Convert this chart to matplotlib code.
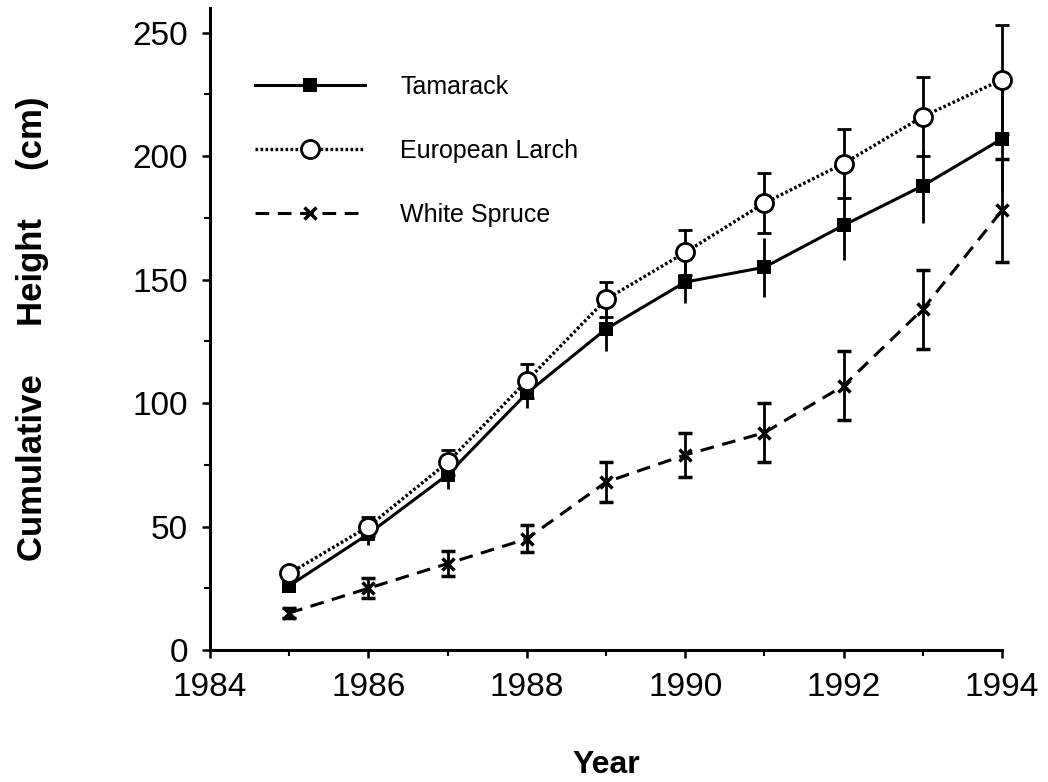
import matplotlib.pyplot as plt
from matplotlib.ticker import MultipleLocator

plt.rcParams['font.family'] = ['Liberation Sans', 'DejaVu Sans']

years = [1985, 1986, 1987, 1988, 1989, 1990, 1991, 1992, 1993, 1994]

tamarack = [26, 47, 71, 104, 130, 149, 155, 172, 188, 207]
tamarack_err = [1.5, 4.5, 6, 6, 9, 8.5, 12, 14, 15, 21]

larch = [31, 50, 76, 109, 142, 161, 181, 197, 216, 231]
larch_err = [2, 4, 5, 7, 7, 9, 12, 14, 16, 22]

spruce = [15, 25, 35, 45, 68, 79, 88, 107, 138, 178]
spruce_err = [2, 4, 5, 5.5, 8, 9, 12, 14, 16, 21]

x_ticks = [1984, 1986, 1988, 1990, 1992, 1994]
y_ticks = [0, 50, 100, 150, 200, 250]

fig = plt.figure(figsize=(10.48, 7.82), dpi=100)
ax = fig.add_axes([0.2004, 0.1688, 0.7557, 0.821])

# 白杉 - 虚线
sp = ax.errorbar(years, spruce, yerr=spruce_err, color='black', lw=2.2,
                 ls=(0, (4.5, 2.8)), marker='x', ms=9, mew=2.5,
                 elinewidth=2, capsize=4.7, capthick=2, label='White Spruce', zorder=2)
# 美洲落叶松 - 实线
tm = ax.errorbar(years, tamarack, yerr=tamarack_err, color='black', lw=2.2,
                 ls='-', marker='s', ms=9.5, mew=0,
                 elinewidth=2, capsize=4.7, capthick=2, label='Tamarack', zorder=3)
# 欧洲落叶松 - 点线
lr = ax.errorbar(years, larch, yerr=larch_err, color='black', lw=2.4,
                 ls=(0, (0.8, 0.7)), marker='o', ms=13, mew=2, mfc='white',
                 elinewidth=2, capsize=4.7, capthick=2, label='European Larch', zorder=4)

for cont in (sp, tm, lr):
    for art in cont.get_children():
        art.set_clip_on(False)

ax.set_xlim(1984, 1994)
ax.set_ylim(0, 260)
ax.set_xticks(x_ticks)
ax.set_yticks(y_ticks)
ax.xaxis.set_minor_locator(MultipleLocator(1))
ax.yaxis.set_minor_locator(MultipleLocator(25))

for s in ['top', 'right']:
    ax.spines[s].set_visible(False)
for s in ['left', 'bottom']:
    ax.spines[s].set_linewidth(2.2)

ax.tick_params(which='major', direction='out', length=6, width=1.8,
               labelsize=24, pad=10)
ax.tick_params(which='minor', direction='out', length=4, width=1.5)
ax.tick_params(axis='y', which='major', pad=10)

ax.set_xlabel('Year', fontsize=23, fontweight='bold', labelpad=34)
ax.set_ylabel('Cumulative     Height     (cm)', fontsize=25, fontweight='bold',
              labelpad=60)

h, l = ax.get_legend_handles_labels()
order = [1, 2, 0]
leg = ax.legend([h[i][0] for i in order], [l[i] for i in order],
                loc='upper left', bbox_to_anchor=(0.057, 0.896),
                frameon=False, fontsize=18, handlelength=4.4,
                handletextpad=1.4, labelspacing=1.6, borderpad=0,
                borderaxespad=0, numpoints=1)

plt.savefig('out.png', dpi=100)
